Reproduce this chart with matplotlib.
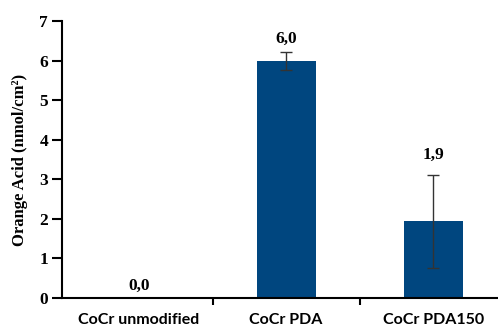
import matplotlib
matplotlib.use("Agg")
import matplotlib.pyplot as plt

categories = ["CoCr unmodified", "CoCr PDA", "CoCr PDA150"]
values = [0.0, 6.0, 1.94]
errors = [0.0, 0.23, 1.17]
value_labels = ["0,0", "6,0", "1,9"]

bar_color = "#00467f"

fig = plt.figure(figsize=(4.98, 3.3), dpi=100)
ax = fig.add_axes([0.1245, 0.097, 0.8755, 0.839])

x = list(range(len(categories)))
ax.bar(x, values, width=0.4, color=bar_color, zorder=2)
for i in x:
    if errors[i] > 0:
        ax.errorbar(i, values[i], yerr=errors[i], fmt="none", ecolor="#333333",
                    elinewidth=1, capsize=4, capthick=1, zorder=3)

label_y = [0.1, values[1] + errors[1] + 0.12, values[2] + errors[2] + 0.3]
for i in x:
    ax.text(i, label_y[i], value_labels[i], ha="center", va="bottom",
            fontsize=12.5, fontweight="bold", family="Liberation Serif")

ax.set_xlim(-0.524, 2.44)
ax.set_ylim(0, 7)
ax.set_yticks(range(8))
ax.set_yticklabels([str(v) for v in range(8)], family="Liberation Serif",
                   fontweight="bold", fontsize=12.5)
ax.set_xticks([0.5, 1.5])
ax.set_xticklabels([])
ax.set_xticks(x, minor=True)
ax.set_xticklabels(categories, minor=True, family="Lato", fontweight="bold", fontsize=11.5)
ax.tick_params(axis="x", which="minor", length=0, pad=11)
ax.tick_params(axis="x", which="major", length=5, width=1.5, direction="out")
ax.tick_params(axis="y", length=7, width=1.5, direction="out", pad=3)

for side in ["top", "right"]:
    ax.spines[side].set_visible(False)
for side in ["left", "bottom"]:
    ax.spines[side].set_linewidth(1.5)

ax.set_ylabel("Orange Acid (nmol/cm²)", family="Liberation Serif",
              fontweight="bold", fontsize=12, labelpad=8)

fig.savefig("out.png", dpi=100)
